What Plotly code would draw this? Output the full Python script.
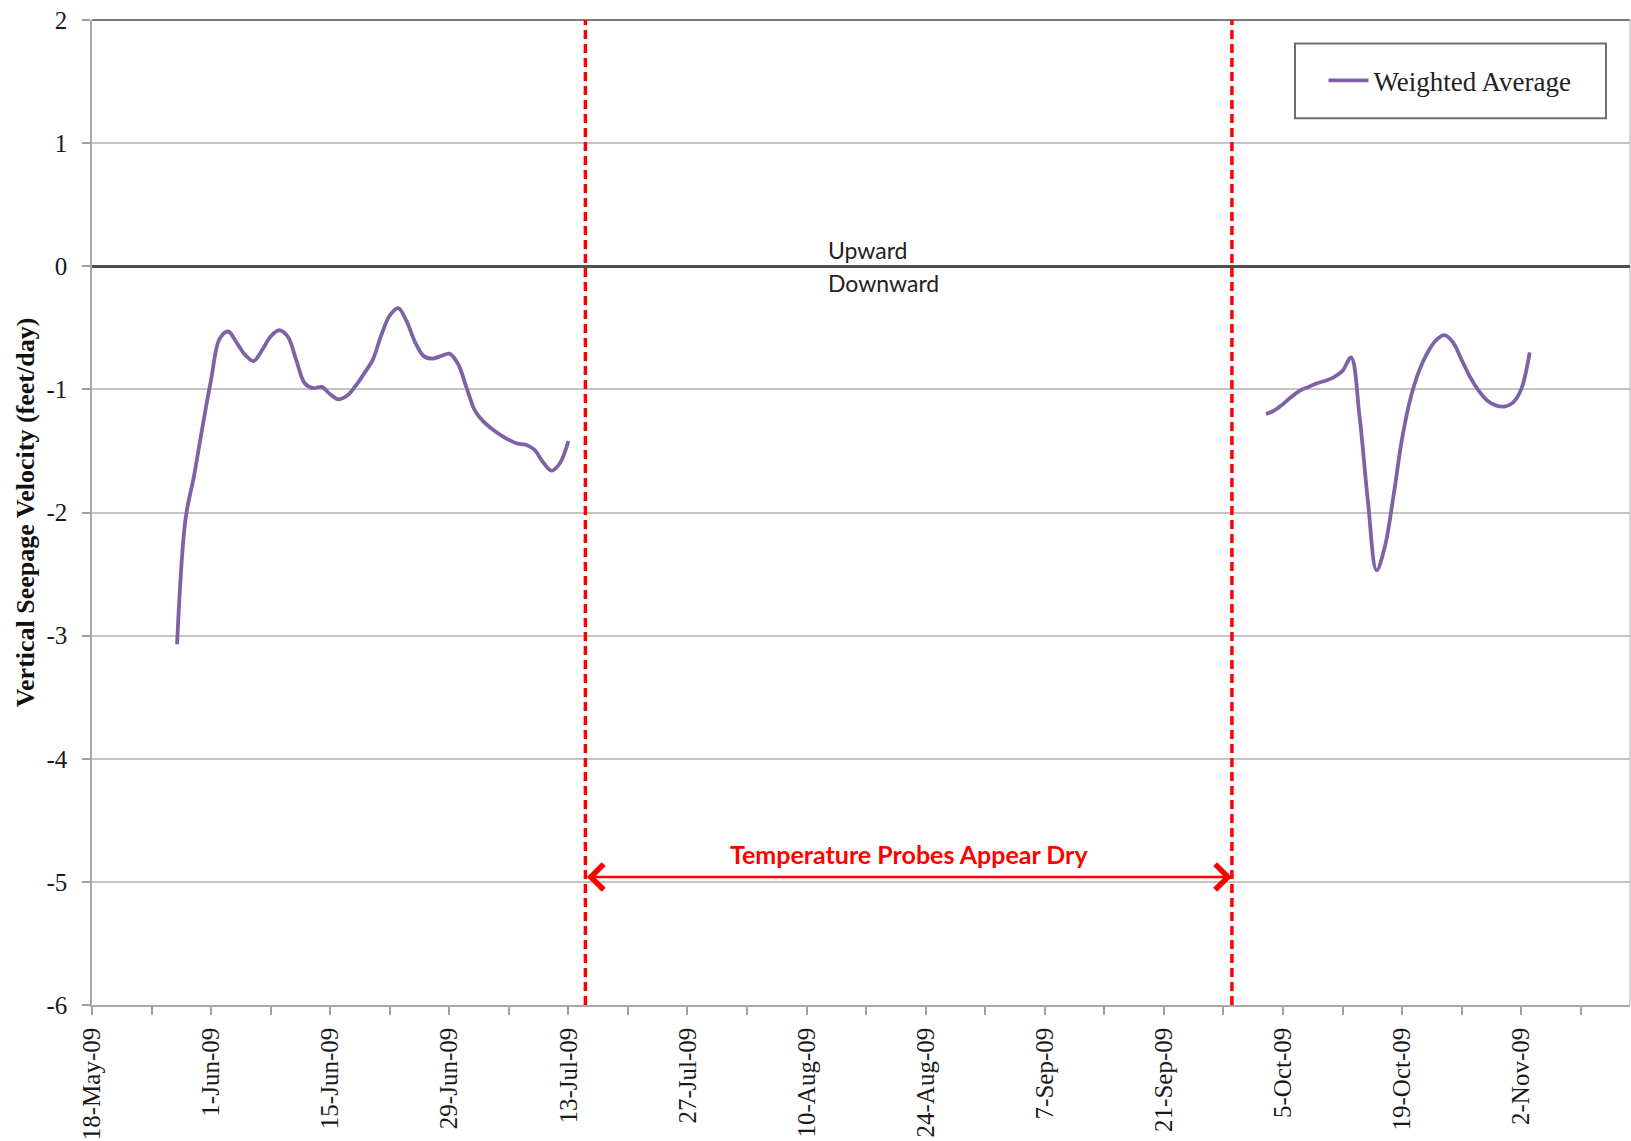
import plotly.graph_objects as go

# ---- data ----
dates_1 = [
    "2009-05-28", "2009-05-29", "2009-05-30", "2009-05-31", "2009-06-01", "2009-06-02",
    "2009-06-03", "2009-06-04", "2009-06-05", "2009-06-06", "2009-06-07", "2009-06-08",
    "2009-06-09", "2009-06-10", "2009-06-11", "2009-06-12", "2009-06-13", "2009-06-14",
    "2009-06-15", "2009-06-16", "2009-06-17", "2009-06-18", "2009-06-19", "2009-06-20",
    "2009-06-21", "2009-06-22", "2009-06-23", "2009-06-24", "2009-06-25", "2009-06-26",
    "2009-06-27", "2009-06-28", "2009-06-29", "2009-06-30", "2009-07-01", "2009-07-02",
    "2009-07-03", "2009-07-04", "2009-07-05", "2009-07-06", "2009-07-07", "2009-07-08",
    "2009-07-09", "2009-07-10", "2009-07-11", "2009-07-12", "2009-07-13",
]
values_1 = [
    -3.07, -2.05, -1.70, -1.30, -0.92, -0.59,
    -0.53, -0.62, -0.72, -0.77, -0.68, -0.57,
    -0.52, -0.57, -0.76, -0.95, -0.99, -0.98,
    -1.04, -1.08, -1.05, -0.97, -0.87, -0.76,
    -0.56, -0.40, -0.34, -0.45, -0.62, -0.73,
    -0.75, -0.73, -0.71, -0.79, -0.98, -1.17,
    -1.26, -1.32, -1.37, -1.41, -1.44, -1.45,
    -1.49, -1.59, -1.66, -1.60, -1.42,
]
dates_2 = [
    "2009-10-03", "2009-10-04", "2009-10-05", "2009-10-06", "2009-10-07", "2009-10-08",
    "2009-10-09", "2009-10-10", "2009-10-11", "2009-10-12", "2009-10-13", "2009-10-14",
    "2009-10-15", "2009-10-16", "2009-10-17", "2009-10-18", "2009-10-19", "2009-10-20",
    "2009-10-21", "2009-10-22", "2009-10-23", "2009-10-24", "2009-10-25", "2009-10-26",
    "2009-10-27", "2009-10-28", "2009-10-29", "2009-10-30", "2009-10-31", "2009-11-01",
    "2009-11-02", "2009-11-03",
]
values_2 = [
    -1.20, -1.17, -1.12, -1.06, -1.01, -0.98,
    -0.95, -0.93, -0.90, -0.85, -0.74, -1.22,
    -1.92, -2.47, -2.27, -1.86, -1.40, -1.07,
    -0.85, -0.70, -0.60, -0.56, -0.62, -0.76,
    -0.90, -1.01, -1.09, -1.13, -1.14, -1.11,
    -1.00, -0.70,
]
tick_dates = ["2009-05-18", "2009-06-01", "2009-06-15", "2009-06-29", "2009-07-13",
              "2009-07-27", "2009-08-10", "2009-08-24", "2009-09-07", "2009-09-21",
              "2009-10-05", "2009-10-19", "2009-11-02"]
tick_labels = ["18-May-09", "1-Jun-09", "15-Jun-09", "29-Jun-09", "13-Jul-09",
               "27-Jul-09", "10-Aug-09", "24-Aug-09", "7-Sep-09", "21-Sep-09",
               "5-Oct-09", "19-Oct-09", "2-Nov-09"]
y_ticks = [-6, -5, -4, -3, -2, -1, 0, 1, 2]
y_tick_labels = ["-6", "-5", "-4", "-3", "-2", "-1", "0", "1", "2"]
dry_start = "2009-07-15"
dry_end = "2009-09-29"
x_range = ["2009-05-18", "2009-11-14 19:00"]
y_range = [-6, 2]

PURPLE = "#7F62A6"
SERIF = "Liberation Serif"
SANS = "Lato"

fig = go.Figure()
fig.add_trace(go.Scatter(
    x=dates_1, y=values_1, mode="lines", name="Weighted Average",
    line=dict(color=PURPLE, width=3.8, shape="spline", smoothing=1.0),
    legendgroup="wa", showlegend=True,
))
fig.add_trace(go.Scatter(
    x=dates_2, y=values_2, mode="lines", name="Weighted Average",
    line=dict(color=PURPLE, width=3.8, shape="spline", smoothing=1.0),
    legendgroup="wa", showlegend=False,
))

shapes = []
for d in (dry_start, dry_end):
    shapes.append(dict(type="line", xref="x", yref="paper", x0=d, x1=d, y0=0, y1=1,
                       line=dict(color="#FF0000", width=3.5, dash="9px,5px"), layer="above"))
# top border line and right border
shapes.append(dict(type="line", xref="paper", yref="paper", x0=0, x1=1, y0=1, y1=1,
                   line=dict(color="#7A7A7A", width=2), layer="below"))
shapes.append(dict(type="line", xref="paper", yref="paper", x0=1, x1=1, y0=0, y1=1,
                   line=dict(color="#C8C8C8", width=1.5), layer="below"))
# legend frame
shapes.append(dict(type="rect", xref="paper", yref="paper",
                   x0=(1295 - 92) / 1538, x1=(1606 - 92) / 1538,
                   y0=1 - (118.5 - 20) / 988, y1=1 - (43.5 - 20) / 988,
                   line=dict(color="#6E6E6E", width=2), fillcolor="rgba(0,0,0,0)", layer="above"))

annotations = [
    dict(x=dry_end, y=-4.96, ax=dry_start, ay=-4.96, xref="x", yref="y", axref="x", ayref="y",
         text="", showarrow=True, arrowhead=4, arrowside="end+start", arrowsize=1.9,
         arrowwidth=2.6, arrowcolor="#FF0000", standoff=0, startstandoff=0),
    dict(x="2009-08-22", y=-4.77, xref="x", yref="y", text="<b>Temperature Probes Appear Dry</b>",
         showarrow=False, font=dict(family=SANS, size=25, color="#FF0000"), xanchor="center", yanchor="middle"),
    dict(x="2009-08-12 06:00", y=0.13, xref="x", yref="y", text="Upward", showarrow=False,
         font=dict(family=SANS, size=23, color="#222222"), xanchor="left", yanchor="middle"),
    dict(x="2009-08-12 06:00", y=-0.14, xref="x", yref="y", text="Downward", showarrow=False,
         font=dict(family=SANS, size=23, color="#222222"), xanchor="left", yanchor="middle"),
]

fig.update_layout(
    width=1631, height=1141,
    margin=dict(l=92, r=1, t=20, b=133, pad=0),
    paper_bgcolor="white", plot_bgcolor="white",
    shapes=shapes, annotations=annotations,
    showlegend=True,
    legend=dict(x=(1450 - 92) / 1538, y=1 - (81 - 20) / 988, xanchor="center", yanchor="middle",
                bgcolor="rgba(0,0,0,0)", borderwidth=0,
                font=dict(family=SERIF, size=27, color="#222222"), itemwidth=40),
    xaxis=dict(
        type="date", range=x_range, tickmode="array", tickvals=tick_dates, ticktext=tick_labels,
        tickangle=-90, ticks="outside", ticklen=8, tickwidth=1.5, tickcolor="#A0A0A0",
        showline=True, linecolor="#A8A8A8", linewidth=1.5, showgrid=False, zeroline=False,
        tickfont=dict(family=SERIF, size=25, color="#1A1A1A"), ticklabelstandoff=3,
        minor=dict(ticks="outside", ticklen=8, tickwidth=1.5, tickcolor="#A0A0A0",
                   dtick=7 * 86400000, tick0="2009-05-18", showgrid=False),
    ),
    yaxis=dict(
        range=y_range, tickmode="array", tickvals=y_ticks, ticktext=y_tick_labels,
        ticks="outside", ticklen=8, tickwidth=1.5, tickcolor="#A0A0A0",
        showline=True, linecolor="#A8A8A8", linewidth=1.5,
        showgrid=True, gridcolor="#C4C4C4", gridwidth=1.5,
        zeroline=True, zerolinecolor="#505050", zerolinewidth=2.6,
        tickfont=dict(family=SERIF, size=25, color="#1A1A1A"), ticklabelstandoff=10,
        title=dict(text="<b>Vertical Seepage Velocity (feet/day)</b>",
                   font=dict(family=SERIF, size=26, color="#111111"), standoff=4),
    ),
)

fig.write_html("out.html")
